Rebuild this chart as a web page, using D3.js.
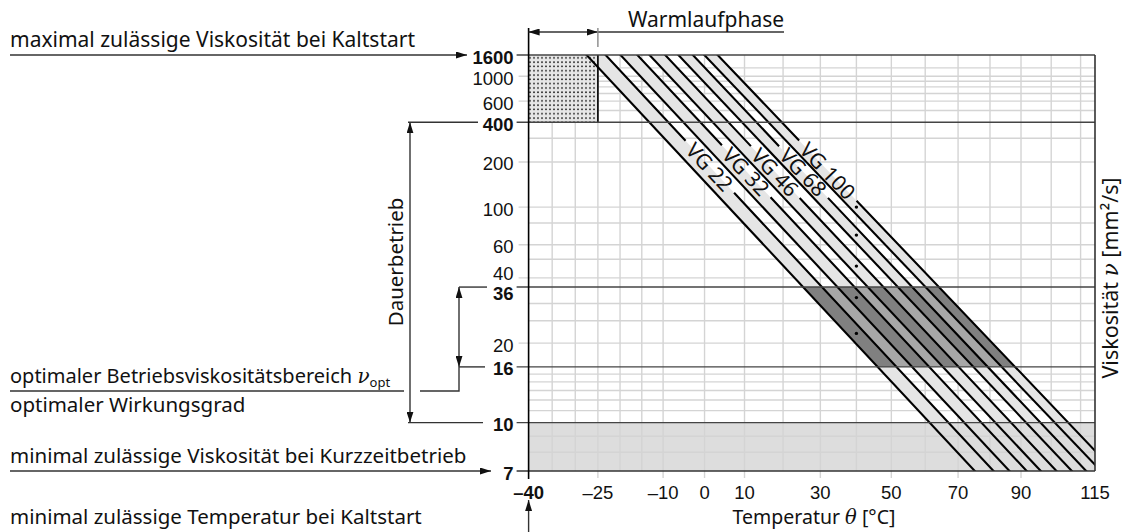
<!DOCTYPE html>
<html>
<head>
<meta charset="utf-8">
<script src="https://cdn.jsdelivr.net/npm/d3@7"></script>
<style>
  body { margin: 0; background: #fff; }
  text { font-family: "Noto Sans", sans-serif; font-size: 20.5px; fill: #111; }
  text.num { font-family: "Liberation Sans", Arial, sans-serif; font-size: 18.5px; }
  text.bold { font-weight: bold; }
  .greek { font-family: "DejaVu Serif", serif; font-style: italic; }
</style>
</head>
<body>
<div id="chart"></div>
<script>
// ISO VG classes: band limits at 40 °C (+-10 %) and estimated values at 100 °C
const grades = ['VG 22', 'VG 32', 'VG 46', 'VG 68', 'VG 100'];
const nominal40 = [22, 32, 46, 68, 100];
const lower40 = [19.8, 28.8, 41.4, 61.2, 90];
const upper40 = [24.2, 35.2, 50.6, 74.8, 110];
const lower100 = [4.18, 5.22, 6.49, 8.18, 10.3];
const upper100 = [4.70, 5.87, 7.28, 9.16, 11.54];
const labelAt = [185, 172, 170, 170, 174];   // viscosity where each label sits

// axes
const xTicks = [-40, -25, -10, 0, 10, 30, 50, 70, 90, 115];
const xGrid = [-35, -30, -25, -20, -15, -10, 0, 10, 20, 30, 40, 50, 60, 70, 80, 90, 100, 110];
const yTicks = [1600, 1000, 600, 400, 200, 100, 60, 40, 36, 20, 16, 10, 7];
const yBold = [1600, 400, 36, 16, 10, 7];
const yGrid = [1200, 1000, 900, 800, 700, 600, 500, 300, 200, 100, 80, 60, 50, 40, 30, 25, 20, 15, 14, 13, 12, 11, 9, 8];
const yLabelShift = {40: -6, 36: 4};

const K = 273.15;
const width = 1124, height = 532;
const plot = {left: 528.6, right: 1095, top: 55, bottom: 471};

// Ubbelohde-Walther chart: log T on x, log log (v + 0.7) on y
const x = d3.scaleLog().domain([-40 + K, 115 + K]).range([plot.left, plot.right]);
const walther = v => Math.log10(Math.log10(v + 0.7));
const y = d3.scaleLinear().domain([walther(7), walther(1600)]).range([plot.bottom, plot.top]);
const px = t => x(t + K);
const py = v => y(walther(v));

const svg = d3.select('#chart').append('svg')
    .attr('width', width)
    .attr('height', height);

const defs = svg.append('defs');

function clipRect(id, y0, y1) {
    defs.append('clipPath').attr('id', id)
        .append('rect')
        .attr('x', plot.left).attr('y', y0)
        .attr('width', plot.right - plot.left).attr('height', y1 - y0);
}
clipRect('clip-plot', plot.top, plot.bottom);
clipRect('clip-upper', plot.top, py(10));
clipRect('clip-opt', py(36), py(16));

const pat = defs.append('pattern').attr('id', 'dots')
    .attr('patternUnits', 'userSpaceOnUse')
    .attr('width', 4).attr('height', 4.3);
pat.append('rect').attr('width', 4).attr('height', 4.3).attr('fill', '#e6e6e6');
pat.append('circle').attr('cx', 2).attr('cy', 2).attr('r', 0.9).attr('fill', '#111');

defs.append('marker').attr('id', 'arrow')
    .attr('viewBox', '0 0 11 7')
    .attr('refX', 11).attr('refY', 3.5)
    .attr('markerWidth', 11).attr('markerHeight', 7)
    .attr('markerUnits', 'userSpaceOnUse')
    .attr('orient', 'auto-start-reverse')
    .append('path').attr('d', 'M0,0L11,3.5L0,7z').attr('fill', '#111');

// line through the values at 40 and 100 degC, straight in chart space
function lineGeom(v40, v100) {
    const a = [px(40), py(v40)], b = [px(100), py(v100)];
    const len = Math.hypot(b[0] - a[0], b[1] - a[1]);
    const u = [(b[0] - a[0]) / len, (b[1] - a[1]) / len];
    return {a: a, u: u, at: t => [a[0] + u[0] * t, a[1] + u[1] * t]};
}
const lows = lower40.map((v, i) => lineGeom(v, lower100[i]));
const highs = upper40.map((v, i) => lineGeom(v, upper100[i]));
const far = 900;
const band = (lo, hi) => 'M' + [lo.at(-far), lo.at(far), hi.at(far), hi.at(-far)].join('L') + 'Z';

// bottom zone (short time operation)
svg.append('rect')
    .attr('x', plot.left).attr('y', py(10))
    .attr('width', plot.right - plot.left).attr('height', plot.bottom - py(10))
    .attr('fill', '#dddddd');

// grid
const grid = svg.append('g').attr('stroke', '#d4d4d4').attr('stroke-width', 1.4);
grid.selectAll('line.gx').data(xGrid).enter().append('line')
    .attr('x1', d => px(d)).attr('x2', d => px(d))
    .attr('y1', plot.top)
    .attr('y2', d => xTicks.includes(d) ? plot.bottom + 7 : plot.bottom);
grid.selectAll('line.gy').data(yGrid).enter().append('line')
    .attr('x1', d => yTicks.includes(d) ? plot.left - 10 : plot.left)
    .attr('x2', plot.right)
    .attr('y1', d => py(d)).attr('y2', d => py(d));

// light bands
svg.append('g').attr('clip-path', 'url(#clip-upper)')
    .selectAll('path').data(grades).enter().append('path')
    .attr('d', (d, i) => band(lows[i], highs[i]))
    .attr('fill', '#e5e5e5');

// optimal range 16..36
const opt = svg.append('g').attr('clip-path', 'url(#clip-opt)');
opt.append('path').attr('d', band(lows[0], highs[highs.length - 1])).attr('fill', '#a7a7a7');
opt.selectAll('path.b').data(grades).enter().append('path')
    .attr('d', (d, i) => band(lows[i], highs[i]))
    .attr('fill', '#808080');

// cold start box
svg.append('rect')
    .attr('x', px(-40)).attr('y', py(1600))
    .attr('width', px(-25) - px(-40)).attr('height', py(400) - py(1600))
    .attr('fill', 'url(#dots)');
svg.append('line')
    .attr('x1', px(-25)).attr('x2', px(-25))
    .attr('y1', py(1600)).attr('y2', py(400))
    .attr('stroke', '#111').attr('stroke-width', 1.8);

// labels (measured first, lines broken around them)
const labels = svg.append('g');
const gaps = highs.map((g, i) => {
    const t = (py(labelAt[i]) - g.a[1]) / g.u[1];
    const c = g.at(t);
    const ang = Math.atan2(g.u[1], g.u[0]) * 180 / Math.PI;
    const txt = labels.append('text')
        .attr('transform', 'translate(' + c + ') rotate(' + ang + ')')
        .attr('text-anchor', 'middle')
        .attr('dominant-baseline', 'central')
        .style('font-size', '21px')
        .text(grades[i]);
    return {t: t, half: txt.node().getComputedTextLength() / 2 + 7};
});

const vgLines = svg.append('g').attr('clip-path', 'url(#clip-plot)')
    .attr('stroke', '#000').attr('stroke-width', 2.1).attr('fill', 'none');
lows.forEach(g => {
    vgLines.append('path').attr('d', 'M' + g.at(-far) + 'L' + g.at(far));
});
highs.forEach((g, i) => {
    const s = gaps[i];
    vgLines.append('path').attr('d',
        'M' + g.at(-far) + 'L' + g.at(s.t - s.half) +
        'M' + g.at(s.t + s.half) + 'L' + g.at(far));
});

// nominal points at 40 degC
svg.selectAll('circle.nom').data(nominal40).enter().append('circle')
    .attr('cx', px(40)).attr('cy', d => py(d))
    .attr('r', 1.7).attr('fill', '#000');

// heavy reference lines
svg.selectAll('line.ref').data(yBold.filter(d => d !== 7)).enter().append('line')
    .attr('x1', plot.left - 12).attr('x2', plot.right)
    .attr('y1', d => py(d)).attr('y2', d => py(d))
    .attr('stroke', '#444').attr('stroke-width', 1.4);
svg.append('line')
    .attr('x1', plot.left - 12).attr('x2', plot.right)
    .attr('y1', plot.bottom).attr('y2', plot.bottom)
    .attr('stroke', '#333').attr('stroke-width', 1.6);
svg.append('line')
    .attr('x1', plot.left).attr('x2', plot.left)
    .attr('y1', 28).attr('y2', plot.bottom + 8)
    .attr('stroke', '#000').attr('stroke-width', 1.6);
svg.append('line')
    .attr('x1', plot.right).attr('x2', plot.right)
    .attr('y1', plot.top).attr('y2', plot.bottom)
    .attr('stroke', '#333').attr('stroke-width', 1.6);

// tick labels
svg.selectAll('text.ytick').data(yTicks).enter().append('text')
    .attr('class', d => 'num' + (yBold.includes(d) ? ' bold' : ''))
    .attr('x', plot.left - 15)
    .attr('y', d => py(d) + 2 + (yLabelShift[d] || 0))
    .attr('text-anchor', 'end')
    .attr('dominant-baseline', 'central')
    .text(d => d);
svg.selectAll('text.xtick').data(xTicks).enter().append('text')
    .attr('class', d => 'num' + (d === -40 ? ' bold' : ''))
    .attr('x', d => px(d))
    .attr('y', plot.bottom + 21)
    .attr('text-anchor', 'middle')
    .attr('dominant-baseline', 'central')
    .text(d => d < 0 ? '\u2013' + (-d) : d);

// axis titles
const xt = svg.append('text').attr('x', 814).attr('y', 524)
    .attr('text-anchor', 'middle').style('font-size', '19.5px');
xt.append('tspan').text('Temperatur ');
xt.append('tspan').attr('class', 'greek').text('\u03b8');
xt.append('tspan').text(' [\u00b0C]');

const yt = svg.append('text')
    .attr('transform', 'translate(1118,278) rotate(-90)')
    .attr('text-anchor', 'middle').style('font-size', '21.5px');
yt.append('tspan').text('Viskosit\u00e4t ');
yt.append('tspan').attr('class', 'greek').text('\u03bd');
yt.append('tspan').text(' [mm\u00b2/s]');

// annotations
const ann = svg.append('g').attr('stroke', '#333').attr('stroke-width', 1.4).attr('fill', 'none');
const arrowLine = (d, start) => {
    const p = ann.append('path').attr('d', d).attr('marker-end', 'url(#arrow)');
    if (start) p.attr('marker-start', 'url(#arrow)');
    return p;
};

arrowLine('M10,' + py(1600) + 'H467');
arrowLine('M10,' + plot.bottom + 'H491');
arrowLine('M' + plot.left + ',532V500');
arrowLine('M410,' + py(400) + 'V' + py(10), true);
arrowLine('M459,' + py(36) + 'V' + py(16), true);
arrowLine('M' + plot.left + ',32H' + px(-25), true);

ann.append('path').attr('d', 'M408,' + py(400) + 'H478');
ann.append('path').attr('d', 'M408,' + py(10) + 'H483');
ann.append('path').attr('d', 'M459,' + py(36) + 'H487');
ann.append('path').attr('d', 'M459,' + py(16) + 'H485');
ann.append('path').attr('d', 'M10,391H404M420,391H459V' + py(16));
ann.append('path').attr('d', 'M' + px(-25) + ',32H784');
ann.append('path').attr('d', 'M' + px(-25) + ',28V47').attr('stroke', '#888');

const note = (tx, ty, s) => svg.append('text').attr('x', tx).attr('y', ty).text(s);
note(10, 47, 'maximal zul\u00e4ssige Viskosit\u00e4t bei Kaltstart').style('font-size', '21px');
const opttxt = note(10, 383, 'optimaler Betriebsviskosit\u00e4tsbereich ').style('font-size', '20px');
opttxt.append('tspan').attr('class', 'greek').text('\u03bd');
opttxt.append('tspan').attr('dy', 4).style('font-size', '13px').text('opt');
note(10, 412, 'optimaler Wirkungsgrad');
note(10, 463, 'minimal zul\u00e4ssige Viskosit\u00e4t bei Kurzzeitbetrieb');
note(10, 524, 'minimal zul\u00e4ssige Temperatur bei Kaltstart');
note(706, 27, 'Warmlaufphase').attr('text-anchor', 'middle').style('font-size', '21px');

svg.append('text')
    .attr('transform', 'translate(403,262) rotate(-90)')
    .attr('text-anchor', 'middle')
    .text('Dauerbetrieb');
</script>
</body>
</html>
